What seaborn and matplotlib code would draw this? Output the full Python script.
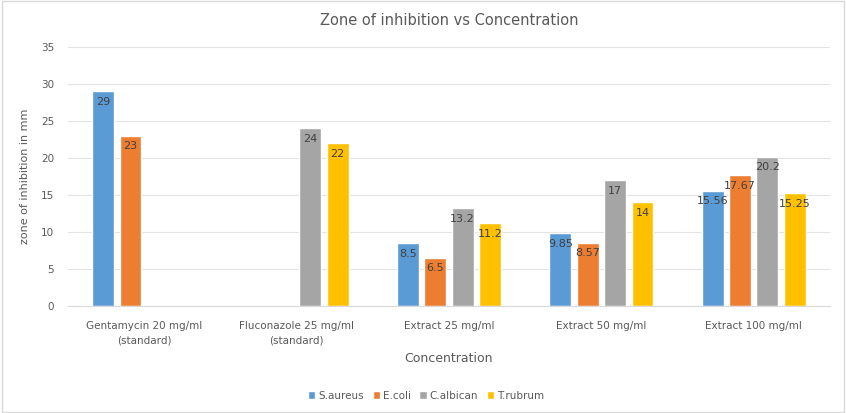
import pandas as pd
import numpy as np
import matplotlib.pyplot as plt
import seaborn as sns

categories = ['Gentamycin 20 mg/ml\n(standard)', 'Fluconazole 25 mg/ml\n(standard)',
              'Extract 25 mg/ml', 'Extract 50 mg/ml', 'Extract 100 mg/ml']
organisms = ['S.aureus', 'E.coli', 'C.albican', 'T.rubrum']
s_aureus = [29, np.nan, 8.5, 9.85, 15.56]
e_coli = [23, np.nan, 6.5, 8.57, 17.67]
c_albican = [np.nan, 24, 13.2, 17, 20.2]
t_rubrum = [np.nan, 22, 11.2, 14, 15.25]
colors = ['#5B9BD5', '#ED7D31', '#A5A5A5', '#FFC000']

rows = []
for org, vals in zip(organisms, [s_aureus, e_coli, c_albican, t_rubrum]):
    for cat, v in zip(categories, vals):
        rows.append({'Concentration': cat, 'Organism': org, 'zone': v})
df = pd.DataFrame(rows)

sns.set_style('white')
plt.rcParams['font.family'] = ['Liberation Sans Narrow', 'DejaVu Sans']
txt = '#595959'

fig = plt.figure(figsize=(8.46, 4.13), dpi=100)
ax = fig.add_axes([0.0804, 0.259, 0.9006, 0.627])

sns.barplot(data=df, x='Concentration', y='zone', hue='Organism', order=categories,
            hue_order=organisms, palette=colors, width=0.72, gap=0.2,
            saturation=1, errorbar=None, ax=ax)

# value labels just inside the top of each bar
for cont in ax.containers:
    for bar in cont:
        if bar is None:
            continue
        h = bar.get_height()
        if np.isnan(h):
            continue
        ax.annotate(f'{h:g}', (bar.get_x() + bar.get_width() / 2, h),
                    xytext=(0, -4), textcoords='offset points', ha='center', va='top',
                    fontsize=8, color='#404040')

ax.set_ylim(0, 35)
ax.set_yticks(range(0, 36, 5))
ax.yaxis.grid(True, color='#E3E3E3', linewidth=0.8)
ax.set_axisbelow(True)
for s in ['top', 'right', 'left']:
    ax.spines[s].set_visible(False)
ax.spines['bottom'].set_color('#D9D9D9')
ax.tick_params(axis='both', length=0, labelsize=7.5, labelcolor=txt)
ax.tick_params(axis='y', pad=10)
ax.tick_params(axis='x', pad=11)
for lab in ax.get_xticklabels():
    lab.set_linespacing(1.5)

ax.set_title('Zone of inhibition vs Concentration', fontsize=10.5, color=txt, pad=16)
ax.set_xlabel('Concentration', fontsize=9, color=txt, labelpad=5)
ax.set_ylabel('zone of inhibition in mm', fontsize=8, color=txt, labelpad=8)

ax.legend(loc='upper center', bbox_to_anchor=(0.47, -0.29), ncol=4, frameon=False,
          fontsize=7.5, handlelength=0.7, handleheight=0.7, handletextpad=0.3,
          columnspacing=0.8, labelcolor=txt)

fig.patches.append(plt.Rectangle((0.002, 0.003), 0.996, 0.994, transform=fig.transFigure,
                                 fill=False, edgecolor='#D9D9D9', linewidth=1))

plt.savefig('out.png', dpi=100)
